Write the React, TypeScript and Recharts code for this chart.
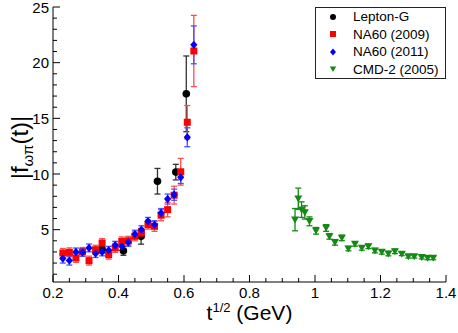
import React from 'react';
import { ScatterChart, Scatter, XAxis, YAxis, ErrorBar, Legend } from 'recharts';

const FONT = '"Liberation Sans", Arial, Helvetica, sans-serif';

// Lepton-G
const lgX = [0.35, 0.415, 0.469, 0.519, 0.575, 0.607];
const lgY = [3.25, 3.1, 4.4, 9.35, 10.17, 17.2];
const lgErr = [0.35, 0.4, 0.7, 1.15, 0.7, 3.4];

// NA60 (shared t^1/2 bins)
const naX = [0.23, 0.25, 0.27, 0.29, 0.31, 0.33, 0.35, 0.37, 0.39, 0.41, 0.43, 0.45, 0.47, 0.49, 0.51, 0.53, 0.55, 0.57, 0.59, 0.61, 0.63];
const na09Y = [2.9, 2.96, 2.46, 3.0, 2.22, 3.2, 3.8, 2.76, 3.36, 3.95, 4.0, 4.4, 4.7, 5.45, 5.3, 6.3, 6.8, 8.1, 10.2, 14.65, 21.05];
const na09Err = [0.4, 0.4, 0.4, 0.4, 0.4, 0.4, 0.4, 0.4, 0.4, 0.4, 0.4, 0.4, 0.4, 0.4, 0.45, 0.5, 0.65, 0.8, 1.2, 1.5, 3.2];
const na11Y = [2.4, 2.22, 3.0, 2.96, 3.36, 2.85, 3.0, 3.15, 3.6, 3.5, 3.86, 4.6, 5.0, 5.75, 5.45, 6.5, 7.75, 8.14, 9.7, 13.3, 21.6];
const na11Err = [0.4, 0.4, 0.35, 0.35, 0.35, 0.35, 0.35, 0.35, 0.35, 0.35, 0.35, 0.35, 0.35, 0.35, 0.35, 0.4, 0.45, 0.5, 0.55, 0.85, 1.7];

// CMD-2 (2005)
const cmdX = [0.939, 0.949, 0.959, 0.969, 0.983, 1.003, 1.034, 1.044, 1.061, 1.082, 1.102, 1.122, 1.143, 1.163, 1.183, 1.204, 1.224, 1.244, 1.265, 1.285, 1.303, 1.326, 1.344, 1.361];
const cmdY = [5.9, 7.78, 6.8, 6.55, 5.75, 4.9, 5.15, 4.4, 3.86, 4.26, 3.3, 3.72, 3.36, 3.5, 3.12, 3.0, 2.85, 3.05, 2.82, 2.6, 2.6, 2.52, 2.45, 2.45];
const cmdErr = [1.0, 0.95, 0.7, 0.6, 0.4, 0.3, 0.3, 0.25, 0.25, 0.25, 0.2, 0.2, 0.2, 0.2, 0.2, 0.2, 0.2, 0.2, 0.15, 0.15, 0.15, 0.15, 0.15, 0.15];

const xTicks = [0.2, 0.25, 0.3, 0.35, 0.4, 0.45, 0.5, 0.55, 0.6, 0.65, 0.7, 0.75, 0.8, 0.85, 0.9, 0.95, 1, 1.05, 1.1, 1.15, 1.2, 1.25, 1.3, 1.35, 1.4];
const yTicks = [1, 2, 3, 4, 5, 6, 7, 8, 9, 10, 11, 12, 13, 14, 15, 16, 17, 18, 19, 20, 21, 22, 23, 24, 25];

const pts = (xs: number[], ys: number[], es: number[]) => xs.map((x, i) => ({ x, y: ys[i], err: es[i] }));

const isMajorX = (v: number) => Math.abs(v * 5 - Math.round(v * 5)) < 1e-6;
const isMajorY = (v: number) => v % 5 === 0;

const BottomTick = ({ x, y, payload }: any) => {
  const major = isMajorX(payload.value);
  return (
    <g>
      <line x1={x} y1={y} x2={x} y2={y - (major ? 7 : 4)} stroke="#000" />
      {major && (
        <text x={x} y={y + 16} textAnchor="middle" fontSize={15} fontFamily={FONT} fill="#000">
          {String(payload.value)}
        </text>
      )}
    </g>
  );
};

const TopTick = ({ x, y, payload }: any) => (
  <line x1={x} y1={y} x2={x} y2={y + (isMajorX(payload.value) ? 7 : 4)} stroke="#000" />
);

const LeftTick = ({ x, y, payload }: any) => {
  const major = isMajorY(payload.value);
  return (
    <g>
      <line x1={x} y1={y} x2={x + (major ? 7 : 4)} y2={y} stroke="#000" />
      {major && (
        <text x={x - 4} y={y + 5.5} textAnchor="end" fontSize={15} fontFamily={FONT} fill="#000">
          {String(payload.value)}
        </text>
      )}
    </g>
  );
};

const RightTick = ({ x, y, payload }: any) => (
  <line x1={x} y1={y} x2={x - (isMajorY(payload.value) ? 7 : 4)} y2={y} stroke="#000" />
);

const XTitle = ({ viewBox }: any) => (
  <text x={viewBox.x + viewBox.width / 2} y={viewBox.y + 38} textAnchor="middle" fontSize={21} fontFamily={FONT} fill="#000">
    t<tspan dy={-8} fontSize={13}>1/2</tspan>
    <tspan dy={8} fontSize={21}>{' (GeV)'}</tspan>
  </text>
);

const YTitle = ({ viewBox }: any) => (
  <text transform={`translate(28, ${viewBox.y + viewBox.height / 2 + 3}) rotate(-90)`} textAnchor="middle" fontSize={24} fontFamily={FONT} fill="#000">
    |f<tspan dy={5} fontSize={15}>ωπ</tspan>
    <tspan dy={-5} fontSize={24}>(t)|</tspan>
  </text>
);

const Dot = ({ cx, cy }: any) => <circle cx={cx} cy={cy} r={3.8} fill="#000" />;
const Square = ({ cx, cy }: any) => <rect x={cx - 3.5} y={cy - 3.5} width={7} height={7} fill="#ff0000" />;
const Diamond = ({ cx, cy }: any) => (
  <polygon points={`${cx},${cy - 4.2} ${cx + 3.6},${cy} ${cx},${cy + 4.2} ${cx - 3.6},${cy}`} fill="#0000ff" />
);
const TriDown = ({ cx, cy }: any) => (
  <polygon points={`${cx - 4},${cy - 3.2} ${cx + 4},${cy - 3.2} ${cx},${cy + 3.8}`} fill="#138a13" />
);

const legendRows = [
  { name: 'Lepton-G', mark: <circle cx={6} cy={6} r={3} fill="#000" /> },
  { name: 'NA60 (2009)', mark: <rect x={3} y={3} width={6} height={6} fill="#ff0000" /> },
  { name: 'NA60 (2011)', mark: <polygon points="6,2.5 9,6 6,9.5 3,6" fill="#0000ff" /> },
  { name: 'CMD-2 (2005)', mark: <polygon points="2.8,3.5 9.2,3.5 6,9" fill="#138a13" /> },
];

const LegendBox = () => (
  <div style={{ boxSizing: 'border-box', width: 131, height: 72, border: '1px solid #222', background: '#fff', fontFamily: FONT, fontSize: 13.5, color: '#000' }}>
    {legendRows.map((r) => (
      <div key={r.name} style={{ display: 'flex', alignItems: 'center', height: 17.5 }}>
        <svg width={12} height={12} style={{ marginLeft: 11, marginRight: 14 }}>{r.mark}</svg>
        <span style={{ whiteSpace: 'nowrap' }}>{r.name}</span>
      </div>
    ))}
  </div>
);

export default function App() {
  return (
    <div style={{ position: 'absolute', left: 0, top: 0, width: 458, height: 333, background: '#fff' }}>
      <ScatterChart width={458} height={333} margin={{ top: 7, right: 12, bottom: 0, left: 0 }}>
        <XAxis xAxisId="b" dataKey="x" type="number" domain={[0.2, 1.4]} allowDataOverflow ticks={xTicks} interval={0}
          height={51} tickSize={0} tickMargin={0} tickLine={false} axisLine={{ stroke: '#000' }} tick={<BottomTick />} label={<XTitle />} />
        <XAxis xAxisId="t" orientation="top" dataKey="x" type="number" domain={[0.2, 1.4]} allowDataOverflow ticks={xTicks} interval={0}
          height={0} tickSize={0} tickMargin={0} tickLine={false} axisLine={{ stroke: '#000' }} tick={<TopTick />} />
        <YAxis yAxisId="l" dataKey="y" type="number" domain={[0.3, 25]} allowDataOverflow ticks={yTicks} interval={0}
          width={53} tickSize={0} tickMargin={0} tickLine={false} axisLine={{ stroke: '#000' }} tick={<LeftTick />} label={<YTitle />} />
        <YAxis yAxisId="r" orientation="right" dataKey="y" type="number" domain={[0.3, 25]} allowDataOverflow ticks={yTicks} interval={0}
          width={0} tickSize={0} tickMargin={0} tickLine={false} axisLine={{ stroke: '#000' }} tick={<RightTick />} />
        <Legend layout="vertical" align="center" verticalAlign="middle" wrapperStyle={{ left: 315, top: 7, width: 131, height: 72 }} content={() => <LegendBox />} />
        <Scatter xAxisId="b" yAxisId="l" name="Lepton-G" data={pts(lgX, lgY, lgErr)} shape={<Dot />} isAnimationActive={false}>
          <ErrorBar dataKey="err" direction="y" width={3} stroke="#333" strokeWidth={1.3} />
        </Scatter>
        <Scatter xAxisId="b" yAxisId="l" name="NA60 (2009)" data={pts(naX, na09Y, na09Err)} shape={<Square />} isAnimationActive={false}>
          <ErrorBar dataKey="err" direction="y" width={3} stroke="#ff4d4d" strokeWidth={1.3} />
        </Scatter>
        <Scatter xAxisId="b" yAxisId="l" name="NA60 (2011)" data={pts(naX, na11Y, na11Err)} shape={<Diamond />} isAnimationActive={false}>
          <ErrorBar dataKey="err" direction="y" width={3} stroke="#4d4dff" strokeWidth={1.3} />
        </Scatter>
        <Scatter xAxisId="b" yAxisId="l" name="CMD-2 (2005)" data={pts(cmdX, cmdY, cmdErr)} shape={<TriDown />} isAnimationActive={false}>
          <ErrorBar dataKey="err" direction="y" width={3} stroke="#138a13" strokeWidth={1.3} />
        </Scatter>
      </ScatterChart>
    </div>
  );
}
